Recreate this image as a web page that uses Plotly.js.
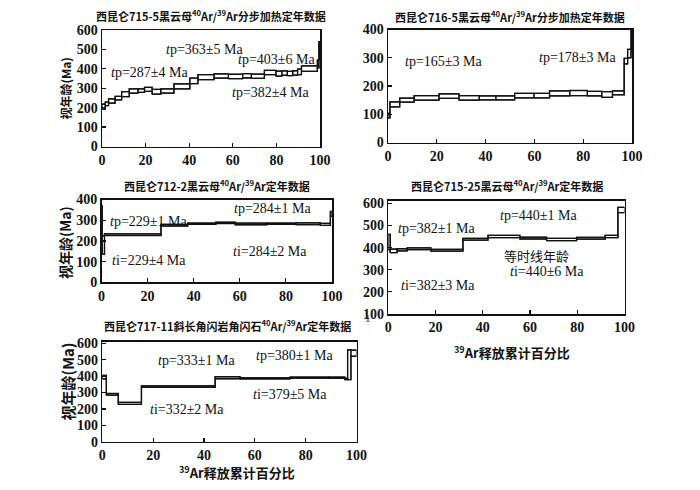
<!DOCTYPE html>
<html><head><meta charset="utf-8">
<script src="https://cdn.plot.ly/plotly-3.0.1.min.js"></script>
<style>html,body{margin:0;padding:0;background:#fff;}</style>
</head><body>
<div id="chart" style="width:700px;height:490px;"></div>
<script>
// ---------- data: cumulative 39Ar release boundaries (%), apparent ages (Ma), 1σ errors ----------
const p1Bounds = [0, 1.5, 3, 6, 9, 12.5, 16.5, 19.5, 23, 27, 33, 40.3, 44, 51.4, 58, 64.5, 68.5, 74.5, 79.8, 82.5, 85, 87.5, 89.7, 91.5, 98.8, 99.5, 100];
const p1Age    = [205, 220, 234, 249, 270, 286, 288, 294, 282, 286, 310, 338, 357, 363, 361, 364, 362, 381, 375, 378, 376, 379, 384, 401, 425, 495];
const p1Err    = [13, 9, 11, 9, 13, 11, 9, 10, 12, 11, 13, 14, 13, 11, 11, 11, 11, 11, 13, 11, 11, 11, 14, 14, 20, 45];

const p2Bounds = [0, 0.8, 4.8, 10.7, 20.9, 29.1, 37.4, 44.2, 51.9, 59.8, 66.2, 74.5, 81.7, 87.6, 92, 96.8, 98.2, 99.6, 100];
const p2Age    = [95, 135, 150, 158, 164, 158, 158, 158, 166, 166, 174, 175, 173, 170, 176, 288, 315, 370];
const p2Err    = [8, 9, 7, 8, 8, 8, 7, 7, 8, 8, 9, 9, 8, 10, 7, 10, 15, 40];

const p3Bounds = [0, 0.3, 1.3, 25.8, 37.4, 49.6, 58, 71.7, 84.3, 94.9, 99.3, 100];
const p3Age    = [255, 180, 230, 276, 283, 287, 282, 283, 283, 280, 330];
const p3Err    = [115, 45, 4, 4, 3, 3, 4, 3, 4, 5, 12];

const p4Bounds = [0, 0.8, 3.7, 8, 18, 31.6, 42.2, 55.7, 67, 79.7, 91.8, 97.2, 100];
const p4Age    = [425, 385, 390, 395, 388, 438, 450, 443, 437, 442, 450, 570];
const p4Err    = [35, 8, 5, 4, 4, 4, 5, 4, 5, 4, 5, 12];

const p5Bounds = [0, 1.6, 6.3, 15.4, 44.4, 54.2, 73.9, 88.9, 95.4, 96.5, 97.8, 100];
const p5Age    = [394, 289, 234, 336, 390, 386, 391, 390, 382, 469, 540];
const p5Err    = [11, 5, 6, 4, 6, 3, 3, 4, 4, 91, 19];

const xTicks = [0, 20, 40, 60, 80, 100];
const titles = [
  '西昆仑715-5黑云母<sup>40</sup>Ar/<sup>39</sup>Ar分步加热定年数据',
  '西昆仑716-5黑云母<sup>40</sup>Ar/<sup>39</sup>Ar分步加热定年数据',
  '西昆仑712-2黑云母<sup>40</sup>Ar/<sup>39</sup>Ar定年数据',
  '西昆仑715-25黑云母<sup>40</sup>Ar/<sup>39</sup>Ar定年数据',
  '西昆仑717-11斜长角闪岩角闪石<sup>40</sup>Ar/<sup>39</sup>Ar定年数据'
];
const yTitle = '视年龄(Ma)';
const xTitle = '<sup>39</sup>Ar释放累计百分比';

// ---------- helpers ----------
const W = 700, H = 490;
const px = v => v / W;
const py = v => 1 - v / H;
const LINE = '#111';

function spectrumTraces(b, a, e, xa, ya) {
  const hi = a.map((v, i) => v + e[i]);
  const lo = a.map((v, i) => v - e[i]);
  const rx = [], ry = [];
  for (let i = 0; i < a.length; i++) {
    rx.push(b[i], b[i + 1], b[i + 1], b[i], b[i], null);
    ry.push(lo[i], lo[i], hi[i], hi[i], lo[i], null);
  }
  const common = {mode: 'lines', xaxis: xa, yaxis: ya, hoverinfo: 'skip', showlegend: false};
  return [
    Object.assign({x: rx, y: ry, line: {color: LINE, width: 1.2}}, common),
    Object.assign({x: b, y: hi.concat([hi[hi.length - 1]]), line: {color: LINE, width: 1.3, shape: 'hv'}}, common),
    Object.assign({x: b, y: lo.concat([lo[lo.length - 1]]), line: {color: LINE, width: 1.3, shape: 'hv'}}, common)
  ];
}

const tickFont = {family: 'Liberation Serif, serif', size: 14, color: '#111', weight: 'bold'};
function xAxis(dom, anchor) {
  return {domain: dom, anchor: anchor, range: [0, 100], tickvals: xTicks, ticks: 'inside', ticklen: 4,
    tickwidth: 1.2, tickcolor: LINE, showline: true, mirror: true, linecolor: LINE, linewidth: 1.5,
    showgrid: false, zeroline: false, tickfont: tickFont, fixedrange: true};
}
function yAxis(dom, anchor, range, tv) {
  return {domain: dom, anchor: anchor, range: range, tickvals: tv, ticks: 'inside', ticklen: 4,
    tickwidth: 1.2, tickcolor: LINE, showline: true, mirror: true, linecolor: LINE, linewidth: 1.5,
    showgrid: false, zeroline: false, tickfont: tickFont, fixedrange: true};
}

const data = [].concat(
  spectrumTraces(p1Bounds, p1Age, p1Err, 'x', 'y'),
  spectrumTraces(p2Bounds, p2Age, p2Err, 'x2', 'y2'),
  spectrumTraces(p3Bounds, p3Age, p3Err, 'x3', 'y3'),
  spectrumTraces(p4Bounds, p4Age, p4Err, 'x4', 'y4'),
  spectrumTraces(p5Bounds, p5Age, p5Err, 'x5', 'y5')
);

const serif = {family: 'Liberation Serif, serif', size: 14, color: '#111'};
const cjkTitle = {family: 'Noto Sans CJK SC', size: 11, color: '#111', weight: 'bold'};
function lab(text, xr, yr, x, y, font) {
  return {text: text, xref: xr, yref: yr, x: x, y: y, showarrow: false, font: font || serif,
    xanchor: 'center', yanchor: 'middle'};
}
function paperLab(text, x, y, font, angle) {
  const o = {text: text, xref: 'paper', yref: 'paper', x: px(x), y: py(y), showarrow: false,
    font: font, xanchor: 'center', yanchor: 'middle'};
  if (angle) o.textangle = angle;
  return o;
}
const tp = v => '<i>t</i>p=' + v + ' Ma';
const ti = v => '<i>t</i>i=' + v + ' Ma';

const annotations = [
  // titles
  paperLab(titles[0], 210.5, 16, cjkTitle),
  paperLab(titles[1], 510, 17, cjkTitle),
  paperLab(titles[2], 217, 185, cjkTitle),
  paperLab(titles[3], 506.5, 185, cjkTitle),
  paperLab(titles[4], 227, 325, cjkTitle),
  // y titles
  paperLab(yTitle, 65, 88.5, {family: 'Noto Sans CJK SC', size: 12, color: '#111', weight: 'bold'}, -90),
  paperLab(yTitle, 65, 243, {family: 'Noto Sans CJK SC', size: 14, color: '#111', weight: 'bold'}, -90),
  paperLab(yTitle, 67, 381.5, {family: 'Noto Sans CJK SC', size: 15, color: '#111', weight: 'bold'}, -90),
  // x titles
  paperLab(xTitle, 511.5, 351.5, {family: 'Noto Sans CJK SC', size: 13, color: '#111', weight: 'bold'}),
  paperLab(xTitle, 236.5, 471.5, {family: 'Noto Sans CJK SC', size: 13, color: '#111', weight: 'bold'}),
  // stray page number
  paperLab('1', 368, 318, {family: 'Liberation Serif, serif', size: 11, color: '#333'}),
  // panel 1
  lab(tp('363±5'), 'x', 'y', 47.2, 499),
  lab(tp('403±6'), 'x', 'y', 80, 448),
  lab(tp('287±4'), 'x', 'y', 21.6, 382),
  lab(tp('382±4'), 'x', 'y', 77.4, 278),
  // panel 2
  lab(tp('165±3'), 'x2', 'y2', 22.7, 288),
  lab(tp('178±3'), 'x2', 'y2', 77.6, 300),
  // panel 3
  lab(tp('229±1'), 'x3', 'y3', 20.4, 293),
  lab(tp('284±1'), 'x3', 'y3', 74, 357),
  lab(ti('229±4'), 'x3', 'y3', 20.4, 104),
  lab(ti('284±2'), 'x3', 'y3', 73.3, 151),
  // panel 4
  lab(tp('382±1'), 'x4', 'y4', 20.5, 485),
  lab(tp('440±1'), 'x4', 'y4', 63.6, 543),
  lab('等时线年龄', 'x4', 'y4', 62.9, 364, {family: 'Noto Sans CJK SC', size: 13, color: '#111'}),
  lab(ti('440±6'), 'x4', 'y4', 67.1, 290),
  lab(ti('382±3'), 'x4', 'y4', 21.2, 229),
  // panel 5
  lab(tp('333±1'), 'x5', 'y5', 37.1, 498),
  lab(tp('380±1'), 'x5', 'y5', 75.7, 524),
  lab(ti('379±5'), 'x5', 'y5', 73.8, 285),
  lab(ti('332±2'), 'x5', 'y5', 33.2, 199)
];

const layout = {
  width: W, height: H, margin: {l: 0, r: 0, t: 0, b: 0},
  paper_bgcolor: '#fff', plot_bgcolor: '#fff', showlegend: false,
  xaxis:  xAxis([px(102), px(320)], 'y'),
  yaxis:  yAxis([py(146.5), py(30)], 'x', [0, 600], [0, 100, 200, 300, 400, 500, 600]),
  xaxis2: xAxis([px(388), px(632)], 'y2'),
  yaxis2: yAxis([py(142.5), py(29.5)], 'x2', [0, 400], [0, 100, 200, 300, 400]),
  xaxis3: xAxis([px(101.5), px(332)], 'y3'),
  yaxis3: yAxis([py(282.3), py(199.5)], 'x3', [0, 400], [0, 100, 200, 300, 400]),
  xaxis4: xAxis([px(388.3), px(624.5)], 'y4'),
  yaxis4: yAxis([py(314), py(200.5)], 'x4', [100, 613], [100, 200, 300, 400, 500, 600]),
  xaxis5: xAxis([px(102.3), px(356.5)], 'y5'),
  yaxis5: yAxis([py(441.7), py(341.5)], 'x5', [0, 611], [0, 100, 200, 300, 400, 500, 600]),
  annotations: annotations
};

Plotly.newPlot('chart', data, layout, {displayModeBar: false, staticPlot: true});
</script>
</body></html>
